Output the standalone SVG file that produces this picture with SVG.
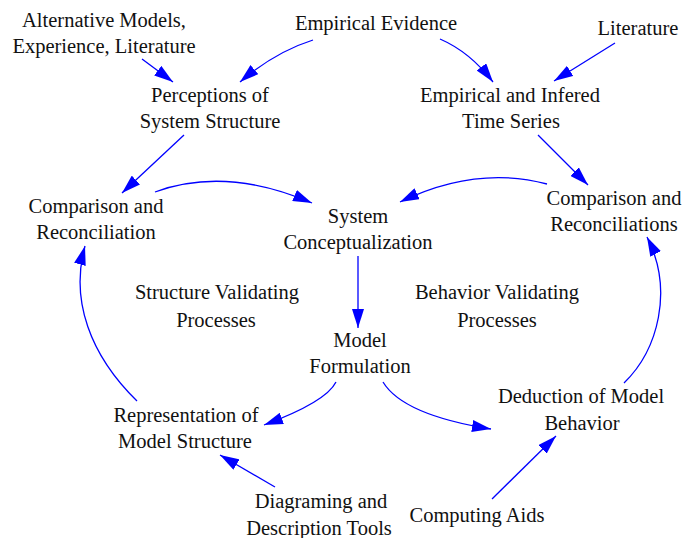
<svg xmlns="http://www.w3.org/2000/svg" width="686" height="538" viewBox="0 0 686 538">
<defs>
<marker id="ah" markerUnits="userSpaceOnUse" markerWidth="20" markerHeight="12" refX="19" refY="6" orient="auto">
<path d="M0,0 L19,6 L0,12 z" fill="#0000FF"/>
</marker>
<style>
text{font-family:"Liberation Serif","Times New Roman",serif;font-size:20.5px;fill:#111;text-anchor:middle}
.c{fill:none;stroke:#0000FF;stroke-width:1.3;marker-end:url(#ah)}
</style>
</defs>
<rect width="686" height="538" fill="#fff"/>
<g id="connectors">
<path class="c" d="M142,59 L173,82"/>
<path class="c" d="M313,40 Q275,52 240,82"/>
<path class="c" d="M440,39 Q470,52 493,82"/>
<path class="c" d="M615,43 L554,81"/>
<path class="c" d="M184,135 L122,193"/>
<path class="c" d="M538,135 L588,185"/>
<path class="c" d="M155,192 Q226,166 312,203"/>
<path class="c" d="M547,184 Q476,165 400,202"/>
<path class="c" d="M358,256 L358,328"/>
<path class="c" d="M336,382 Q326,402 264,425"/>
<path class="c" d="M383,382 Q403,415 491,429"/>
<path class="c" d="M137,401 C90,355 70,300 85,246"/>
<path class="c" d="M624,383 C658,350 674,290 647,237"/>
<path class="c" d="M275,487 L220,455"/>
<path class="c" d="M492,499 L556,436"/>
</g>
<g id="alt"><text x="104" y="27">Alternative Models,</text><text x="104" y="53">Experience, Literature</text></g>
<g id="empirical"><text x="376" y="30">Empirical Evidence</text></g>
<g id="literature"><text x="638" y="35">Literature</text></g>
<g id="perceptions"><text x="210" y="102">Perceptions of</text><text x="210" y="128">System Structure</text></g>
<g id="timeseries"><text x="510" y="102">Empirical and Infered</text><text x="511" y="128">Time Series</text></g>
<g id="comparisonL"><text x="96" y="213">Comparison and</text><text x="96" y="239">Reconciliation</text></g>
<g id="comparisonR"><text x="614" y="205">Comparison and</text><text x="614" y="231">Reconciliations</text></g>
<g id="conceptualization"><text x="358" y="223">System</text><text x="358" y="249">Conceptualization</text></g>
<g id="structureValid"><text x="217" y="299">Structure Validating</text><text x="216" y="327">Processes</text></g>
<g id="behaviorValid"><text x="497" y="299">Behavior Validating</text><text x="497" y="327">Processes</text></g>
<g id="formulation"><text x="360" y="347">Model</text><text x="360" y="373">Formulation</text></g>
<g id="representation"><text x="186" y="422">Representation of</text><text x="185" y="448">Model Structure</text></g>
<g id="deduction"><text x="581" y="403">Deduction of Model</text><text x="582" y="430">Behavior</text></g>
<g id="diagraming"><text x="321" y="508">Diagraming and</text><text x="319" y="535">Description Tools</text></g>
<g id="computing"><text x="477" y="522">Computing Aids</text></g>
</svg>
